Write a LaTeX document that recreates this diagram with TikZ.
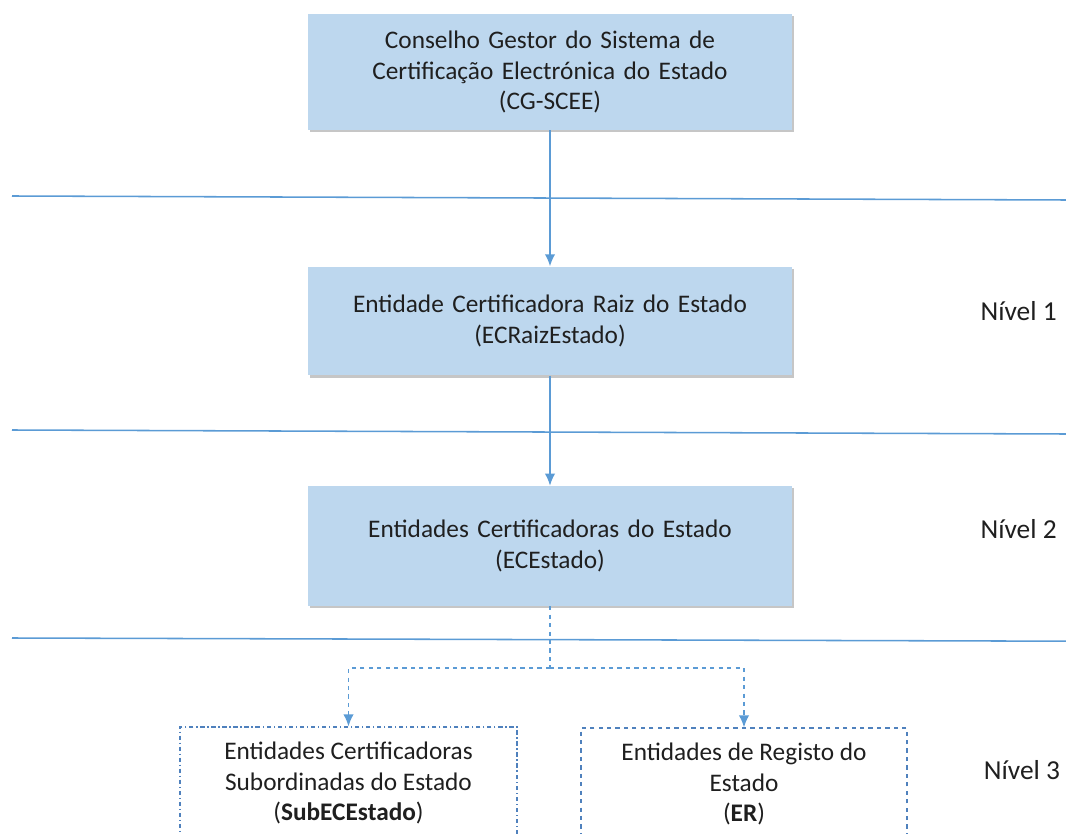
\documentclass[tikz,border=0pt]{standalone}
\usepackage{fontspec}
\setmainfont{Carlito}
\usepackage{tikz}
\usetikzlibrary{shapes,arrows,arrows.meta,positioning,calc,shadows}

\definecolor{boxblue}{HTML}{BDD7EE}
\definecolor{lineblue}{HTML}{5B9BD5}
\definecolor{framegray}{HTML}{4F81BD}
\definecolor{txt}{HTML}{1F1F1F}

\begin{document}
\begin{tikzpicture}[node distance=3.4cm, auto,
    font=\fontsize{18}{21.4}\selectfont, text=txt,
    entity/.style={rectangle, fill=boxblue, text width=11.8cm, align=center, minimum width=12.1cm, minimum height=2.9cm,
        drop shadow={opacity=0.45, shadow xshift=0.6mm, shadow yshift=-0.6mm}},
    subentity/.style={rectangle, draw=framegray, line width=0.85pt, align=center, minimum height=2.8cm},
    level/.style={inner sep=0pt, font=\fontsize{19.5}{22}\selectfont},
    sep/.style={draw=lineblue, line width=1.1pt},
    line/.style={draw=lineblue, -{Latex[length=3mm, width=2.6mm]}, line width=1.1pt},
    dline/.style={draw=lineblue, -{Latex[length=3mm, width=2.6mm]}, line width=1.1pt, dashed}]

    \clip (0,0) rectangle (26.65,-20.85);
    \useasboundingbox (0,0) rectangle (26.65,-20.85);

    % Levels of the hierarchy
    \node [entity] (cgscee) at (13.75,-1.8) {Conselho Gestor do Sistema de\\Certificação Electrónica do Estado\\(CG-SCEE)};
    \node [entity, minimum height=2.72cm, below=3.4cm of cgscee] (ecraiz) {Entidade Certificadora Raiz do Estado\\(ECRaizEstado)};
    \node [entity, minimum height=3cm, below=2.75cm of ecraiz] (ecestado) {Entidades Certificadoras do Estado\\(ECEstado)};

    % Bottom row - subordinate entities
    \node [subentity, dash dot, minimum width=8.425cm] (subec) at (8.7125,-19.575) {Entidades Certificadoras\\Subordinadas do Estado\\(\textbf{SubECEstado})};
    \node [subentity, dashed, minimum width=8.15cm] (er) at (18.6,-19.6) {Entidades de Registo do\\Estado\\(\textbf{ER})};

    % Level labels
    \node [level, right=4.7cm of ecraiz, yshift=0.25cm] (nivel1) {Nível 1};
    \node [level, right=4.7cm of ecestado, yshift=0.43cm] (nivel2) {Nível 2};
    \node [level, right=1.9cm of er, yshift=0.34cm] (nivel3) {Nível 3};

    % Separators
    \draw [sep] (0.3,-4.9) -- (26.65,-5.0);
    \draw [sep] (0.3,-10.75) -- (26.65,-10.85);
    \draw [sep] (0.3,-15.95) -- (26.65,-16.03);

    % Flow connections
    \path [line] (cgscee) -- (ecraiz);
    \path [line] (ecraiz) -- (ecestado);
    \coordinate [below=1.55cm of ecestado.south] (split);
    \draw [lineblue, line width=1.1pt, dashed] (ecestado.south) -- (split);
    \path [dline] (split) -| (subec.north);
    \path [dline] (split) -| (er.north);
\end{tikzpicture}
\end{document}
